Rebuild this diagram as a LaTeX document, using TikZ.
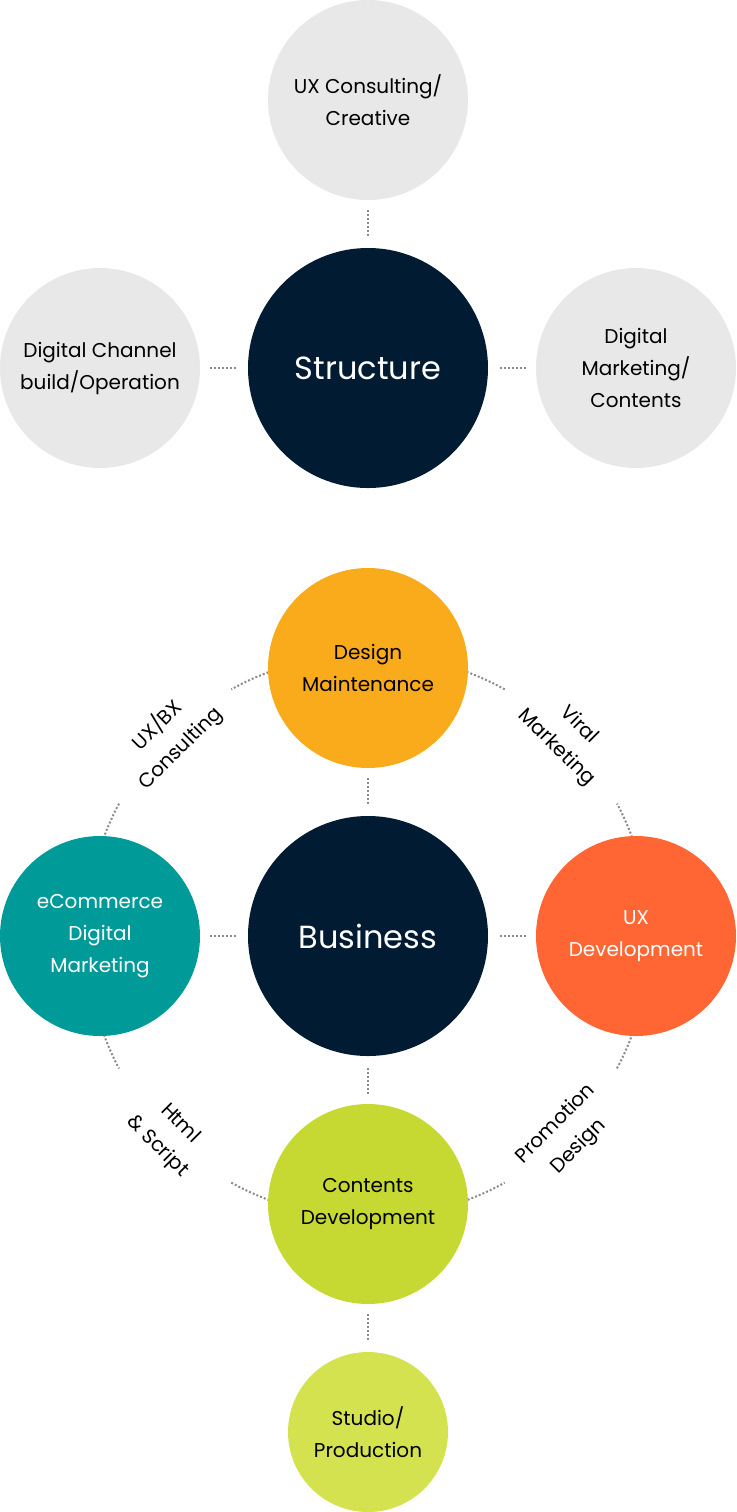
\documentclass[tikz,border=0pt]{standalone}
\usepackage{fontspec}
\setmainfont{Poppins}
\usetikzlibrary{calc,backgrounds,positioning}
\definecolor{cgrey}{HTML}{E8E8E8}
\definecolor{cnavy}{HTML}{011B33}
\definecolor{cyellow}{HTML}{F9AB1B}
\definecolor{cteal}{HTML}{009B99}
\definecolor{corange}{HTML}{FF6633}
\definecolor{clime}{HTML}{C6D932}
\definecolor{clight}{HTML}{D5E24F}
\definecolor{cdot}{HTML}{8C8C8C}

\begin{document}
\begin{tikzpicture}[x=0.5pt,y=0.5pt,node distance=134pt]
 \tikzstyle{bubble} = [circle,inner sep=0pt,align=center,font=\fontsize{10}{16}\selectfont];
 \tikzstyle{core}   = [bubble,minimum size=120pt,fill=cnavy,text=white,font=\fontsize{16}{20}\selectfont];
 \tikzstyle{sat}    = [bubble,minimum size=100pt];
 \tikzstyle{tiny}   = [bubble,minimum size=80pt];
 \tikzstyle{dots}   = [draw=cdot,line width=1pt,dash pattern=on 1pt off 1pt,shorten >=5pt,shorten <=5pt];
 \tikzstyle{ring}   = [draw=cdot,line width=1pt,dash pattern=on 1pt off 1pt];
 \tikzstyle{tag}    = [align=center,inner sep=0pt,font=\fontsize{10}{16}\selectfont];

 \useasboundingbox (0,0) rectangle (736,-1512);

 %% structure
 \node[core, name=structure] at (368,-368) {Structure};
 \node[sat,fill=cgrey,name=uxcreative,above of=structure] {UX Consulting/\\Creative};
 \node[sat,fill=cgrey,name=channel,left of=structure] {Digital Channel\\build/Operation};
 \node[sat,fill=cgrey,name=marketing,right of=structure] {Digital\\Marketing/\\Contents};

 \path (uxcreative) edge [dots] (structure);
 \path (channel) edge [dots] (structure);
 \path (marketing) edge [dots] (structure);

 %% business
 \node[core, name=business, below of=structure, node distance=284pt] {Business};
 \node[sat,fill=cyellow,name=design,above of=business] {Design\\Maintenance};
 \node[sat,fill=cteal,text=white,name=ecommerce,left of=business] {eCommerce\\Digital\\Marketing};
 \node[sat,fill=corange,text=white,name=uxdev,right of=business] {UX\\Development};
 \node[sat,fill=clime,name=contents,below of=business] {Contents\\Development};
 \node[tiny,fill=clight,name=studio,below of=contents,node distance=114pt] {Studio/\\Production};

 \path (design) edge [dots] (business);
 \path (ecommerce) edge [dots] (business);
 \path (uxdev) edge [dots] (business);
 \path (contents) edge [dots] (business);
 \path (contents) edge [dots] (studio);

 %% ring round business
 \begin{scope}[on background layer]
  \foreach \a/\b in {105/119,152/166,61/75,14/28,194/208,241/255,285/299,332/346}
   \draw[ring] ($(business)+(\a:141pt)$) arc[start angle=\a,end angle=\b,radius=141pt];
 \end{scope}

 \node[tag,rotate=45,name=uxbx] at ($(business)+(135:141pt)$) {UX/BX\\Consulting};
 \node[tag,rotate=-45,name=viral] at ($(business)+(45:141pt)$) {Viral\\Marketing};
 \node[tag,rotate=-45,name=html] at ($(business)+(225:141pt)$) {Html\\\& Script};
 \node[tag,rotate=45,name=promo] at ($(business)+(315:141pt)$) {Promotion\\Design};

\end{tikzpicture}
\end{document}
